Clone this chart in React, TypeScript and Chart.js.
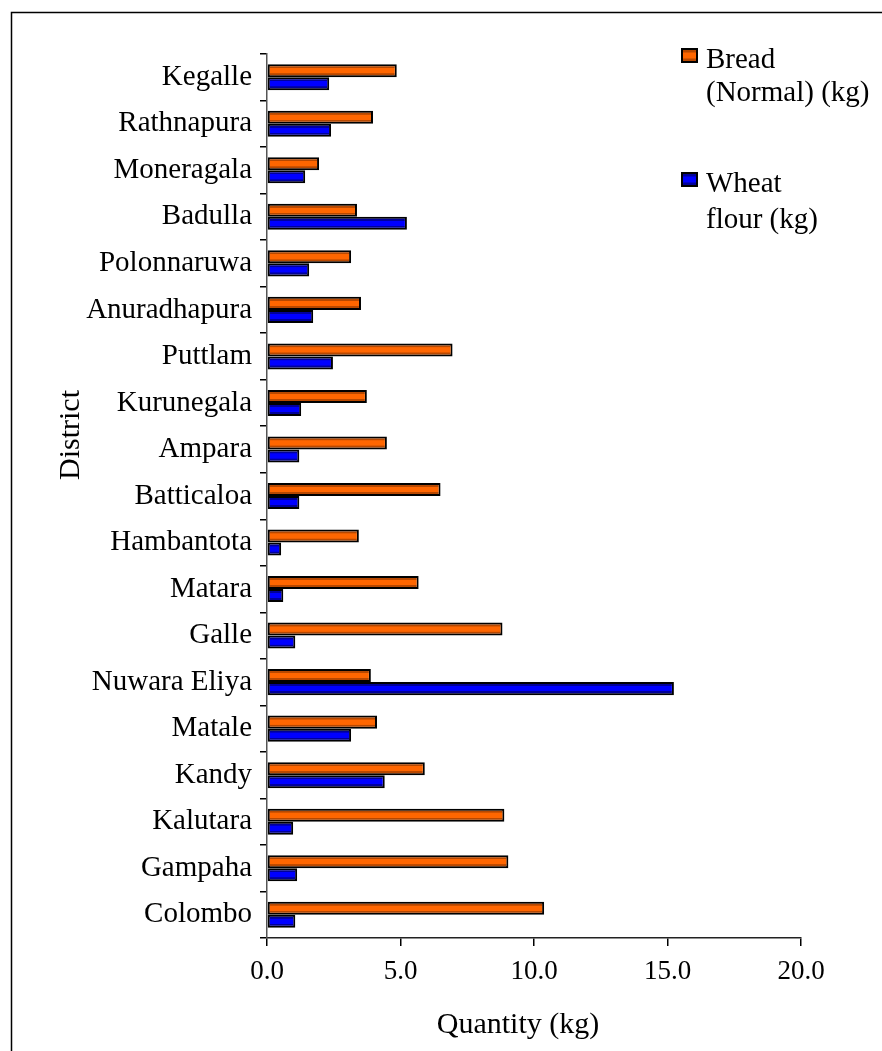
import React, { useEffect, useRef } from "react";
import { Chart, registerables } from "chart.js";

Chart.register(...registerables);

const districts = [
  "Kegalle", "Rathnapura", "Moneragala", "Badulla", "Polonnaruwa", "Anuradhapura",
  "Puttlam", "Kurunegala", "Ampara", "Batticaloa", "Hambantota", "Matara", "Galle",
  "Nuwara Eliya", "Matale", "Kandy", "Kalutara", "Gampaha", "Colombo",
];
const breadValues = [4.86, 3.97, 1.95, 3.37, 3.15, 3.52, 6.95, 3.74, 4.49, 6.5, 3.44, 5.68, 8.82, 3.89, 4.12, 5.91, 8.89, 9.04, 10.38];
const wheatValues = [2.33, 2.4, 1.43, 5.24, 1.58, 1.73, 2.47, 1.28, 1.21, 1.21, 0.53, 0.61, 1.06, 15.24, 3.15, 4.41, 0.98, 1.13, 1.06];
const seriesNames = [["Bread", "(Normal) (kg)"], ["Wheat", "flour (kg)"]];
const xTicks = [0, 5, 10, 15, 20];
const xTitle = "Quantity (kg)";
const yTitle = "District";

const FONT = '"Liberation Serif", "Times New Roman", serif';
const CAT_PCT = 0.56;
const palette = [
  { bright: "#ff6600", dark: "#b84800" },
  { bright: "#0000ff", dark: "#00009a" },
];

function stripeGradient(ctx: CanvasRenderingContext2D, top: number, bottom: number, p: { bright: string; dark: string }) {
  if (!isFinite(top) || !isFinite(bottom) || bottom <= top) return p.bright as any;
  const g = ctx.createLinearGradient(0, top, 0, bottom);
  g.addColorStop(0, p.dark);
  g.addColorStop(0.28, p.dark);
  g.addColorStop(0.32, p.bright);
  g.addColorStop(0.68, p.bright);
  g.addColorStop(0.72, p.dark);
  g.addColorStop(1, p.dark);
  return g;
}

export default function App() {
  const ref = useRef<HTMLCanvasElement | null>(null);

  useEffect(() => {
    if (!ref.current) return;
    const ctx0 = ref.current.getContext("2d")!;

    const bg = (dsIndex: number) => (c: any) => {
      const chart = c.chart;
      const y = chart.scales?.y;
      if (!y || typeof c.dataIndex !== "number") return palette[dsIndex].bright;
      const p0 = y.getPixelForValue(0);
      const p1 = y.getPixelForValue(1);
      const pc = y.getPixelForValue(c.dataIndex);
      if (!isFinite(p0) || !isFinite(p1) || !isFinite(pc)) return palette[dsIndex].bright;
      const band = Math.abs(p1 - p0);
      const barH = (band * CAT_PCT) / 2;
      const center = pc + (dsIndex - 0.5) * barH;
      return stripeGradient(chart.ctx, center - barH / 2, center + barH / 2, palette[dsIndex]);
    };

    const overlay = {
      id: "overlay",
      beforeDraw(chart: any) {
        const ctx = chart.ctx;
        ctx.save();
        ctx.fillStyle = "#fff";
        ctx.fillRect(0, 0, chart.width, chart.height);
        ctx.strokeStyle = "#000";
        ctx.lineWidth = 1.5;
        ctx.strokeRect(11.5, 12.5, 1000, 1100);
        ctx.restore();
      },
      afterDraw(chart: any) {
        const ctx = chart.ctx;
        const a = chart.chartArea;
        ctx.save();
        ctx.fillStyle = "#000";
        ctx.font = `30px ${FONT}`;
        ctx.textAlign = "center";
        ctx.textBaseline = "alphabetic";
        ctx.fillText(xTitle, a.left + (a.right - a.left) * 0.47, 1033);
        ctx.save();
        ctx.translate(79, 435);
        ctx.rotate(-Math.PI / 2);
        ctx.fillText(yTitle, 0, 0);
        ctx.restore();
        ctx.font = `29px ${FONT}`;
        ctx.textAlign = "left";
        const items = [
          { boxTop: 48, lines: [68, 101] },
          { boxTop: 172, lines: [192, 228] },
        ];
        items.forEach((it, i) => {
          const bx = 681, bw = 17, bh = 15;
          ctx.fillStyle = stripeGradient(ctx, it.boxTop, it.boxTop + bh, palette[i]);
          ctx.fillRect(bx, it.boxTop, bw, bh);
          ctx.strokeStyle = "#000";
          ctx.lineWidth = 2;
          ctx.strokeRect(bx + 1, it.boxTop + 1, bw - 2, bh - 2);
          ctx.fillStyle = "#000";
          seriesNames[i].forEach((t, j) => ctx.fillText(t, 706, it.lines[j]));
        });
        ctx.restore();
      },
    };

    const chart = new Chart(ctx0, {
      type: "bar",
      data: {
        labels: districts,
        datasets: [
          {
            label: seriesNames[0].join(" "),
            data: breadValues,
            backgroundColor: bg(0),
            borderColor: "#000",
            borderWidth: 2,
            borderSkipped: false,
            categoryPercentage: CAT_PCT,
            barPercentage: 1,
          },
          {
            label: seriesNames[1].join(" "),
            data: wheatValues,
            backgroundColor: bg(1),
            borderColor: "#000",
            borderWidth: 2,
            borderSkipped: false,
            categoryPercentage: CAT_PCT,
            barPercentage: 1,
          },
        ],
      },
      options: {
        indexAxis: "y",
        animation: false,
        responsive: false,
        maintainAspectRatio: false,
        devicePixelRatio: 1,
        layout: { padding: { left: 0, top: 54, right: 81, bottom: 0 } },
        plugins: { legend: { display: false }, tooltip: { enabled: false }, title: { display: false } },
        scales: {
          x: {
            min: 0,
            max: 20,
            afterBuildTicks: (s: any) => {
              s.ticks = xTicks.map((v) => ({ value: v }));
            },
            afterFit: (s: any) => {
              s.height = 113;
            },
            ticks: {
              callback: (v: any) => Number(v).toFixed(1),
              color: "#000",
              font: { family: FONT, size: 27 },
              padding: 10,
              maxRotation: 0,
            },
            grid: { drawOnChartArea: false, drawTicks: true, tickLength: 8, color: "#000", lineWidth: 1.5 },
            border: { display: true, color: "#222", width: 1.5 },
          },
          y: {
            type: "category",
            offset: true,
            afterFit: (s: any) => {
              s.width = 267;
            },
            ticks: {
              color: "#000",
              font: { family: FONT, size: 29 },
              padding: 8,
            },
            grid: { offset: true, drawOnChartArea: false, drawTicks: true, tickLength: 7, color: "#000", lineWidth: 1.5 },
            border: { display: true, color: "#555", width: 1.5 },
          },
        },
      },
      plugins: [overlay],
    });
    return () => chart.destroy();
  }, []);

  return (
    <div style={{ position: "absolute", left: 0, top: 0, width: 882, height: 1051, background: "#fff" }}>
      <canvas ref={ref} width={882} height={1051} style={{ display: "block", width: 882, height: 1051 }} />
    </div>
  );
}
